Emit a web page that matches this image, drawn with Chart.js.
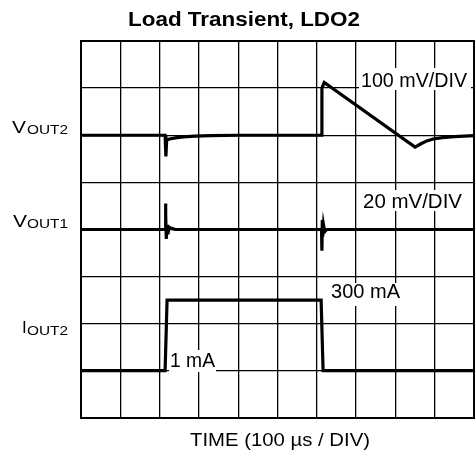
<!DOCTYPE html>
<html>
<head>
<meta charset="utf-8">
<script src="https://cdn.jsdelivr.net/npm/chart.js@4"></script>
<style>
    html, body { margin: 0; padding: 0; background: #fff; }
</style>
</head>
<body>
<canvas id="scope" width="475" height="457"></canvas>
<script>
// время в мкс (100 мкс / деление)
const vout2Time = [0, 214, 216, 218, 225, 240, 260, 290, 330, 400, 612, 613, 619, 850, 865, 880, 896, 920, 950, 1000]
const vout2Mv = [0, 0, -45, -10, -8, -5.5, -3.5, -2, -1, 0, 0, 100, 112, -25, -18, -12, -8, -5, -3, -1]

const vout1Time = [0, 214, 215, 216, 217, 219, 221, 224, 230, 240, 612, 613, 614, 615, 617, 620, 625, 1000]
const vout1Mv = [0, 0, 11, 6, -4, 2, -2, 1, 0.5, 0, 0, -9, 4, -3, 2, -1, 0, 0]

const iout2Time = [0, 214, 219, 611, 616, 1000]
const iout2Ma = [1, 1, 300, 300, 1, 1]

// масштаб каналов: смещение (в делениях) и цена деления
const channels = [
    { time: vout2Time, values: vout2Mv, offset: 6, perDiv: 100 },
    { time: vout1Time, values: vout1Mv, offset: 4, perDiv: 20 },
    { time: iout2Time, values: iout2Ma, offset: 1, perDiv: 200 }
]

const FONT = '"Liberation Sans", Arial, sans-serif'

// подписи: x, y - левый край и базовая линия, width - нужная ширина
const texts = [
    { text: 'Load Transient, LDO2', x: 128, y: 26, size: 20, bold: true, width: 232 },
    { text: 'TIME (100 µs / DIV)', x: 190, y: 446, size: 19, width: 180 },
    { text: 'V', x: 12, y: 132.5, size: 17, width: 14 },
    { text: 'OUT2', x: 27, y: 134, size: 13, width: 41 },
    { text: 'V', x: 13, y: 226.5, size: 17, width: 14 },
    { text: 'OUT1', x: 27, y: 228, size: 13, width: 41 },
    { text: 'I', x: 22, y: 333, size: 17 },
    { text: 'OUT2', x: 27, y: 335, size: 13, width: 41 },
    { text: '100 mV/DIV', x: 361, y: 87, size: 19.5, width: 106 },
    { text: '20 mV/DIV', x: 363, y: 208, size: 19.5, width: 99 },
    { text: '300 mA', x: 331, y: 298, size: 19.5, width: 69 },
    { text: '1 mA', x: 170, y: 367, size: 19.5, width: 45 }
]

// белые подложки под подписями на сетке
const boxes = [
    { x: 359, y: 68, w: 112, h: 22 },
    { x: 360, y: 190, w: 106, h: 21 },
    { x: 329, y: 283, w: 76, h: 23 },
    { x: 169, y: 350, w: 47, h: 22 }
]

const drawText = (ctx, item) => {
    ctx.save()
    ctx.font = (item.bold ? 'bold ' : '') + item.size + 'px ' + FONT
    ctx.textAlign = 'left'
    ctx.textBaseline = 'alphabetic'
    const w = ctx.measureText(item.text).width
    ctx.translate(item.x, item.y)
    ctx.scale(item.width ? item.width / w : 1, 1)
    ctx.fillStyle = '#000'
    ctx.fillText(item.text, 0, 0)
    ctx.restore()
}

const scopeLabels = {
    id: 'scopeLabels',
    beforeDatasetsDraw(chart) {
        const ctx = chart.ctx
        ctx.save()
        ctx.fillStyle = '#fff'
        boxes.forEach(b => ctx.fillRect(b.x, b.y, b.w, b.h))
        ctx.restore()
    },
    afterDraw(chart) {
        const ctx = chart.ctx
        const { left, right, top, bottom } = chart.chartArea
        // рамка
        ctx.save()
        ctx.strokeStyle = '#000'
        ctx.lineWidth = 2
        ctx.strokeRect(left, top, right - left, bottom - top)
        ctx.restore()
        texts.forEach(t => drawText(ctx, t))
    }
}

const gridStyle = {
    color: '#000',
    lineWidth: 1.3,
    drawTicks: false
}

new Chart(document.getElementById('scope'), {
    type: 'line',
    data: {
        datasets: channels.map(ch => ({
            data: ch.time.map((t, i) => ({ x: t, y: ch.offset + ch.values[i] / ch.perDiv })),
            borderColor: '#000',
            borderWidth: 3.2,
            pointRadius: 0,
            tension: 0,
            fill: false
        }))
    },
    options: {
        responsive: false,
        animation: false,
        layout: { padding: { left: 81, top: 41, right: 1, bottom: 39 } },
        plugins: {
            legend: { display: false },
            tooltip: { enabled: false }
        },
        scales: {
            x: {
                type: 'linear',
                min: 0,
                max: 1000,
                ticks: { stepSize: 100, display: false },
                grid: gridStyle,
                border: { display: false }
            },
            y: {
                min: 0,
                max: 8,
                ticks: { stepSize: 1, display: false },
                grid: gridStyle,
                border: { display: false }
            }
        }
    },
    plugins: [scopeLabels]
})
</script>
</body>
</html>
